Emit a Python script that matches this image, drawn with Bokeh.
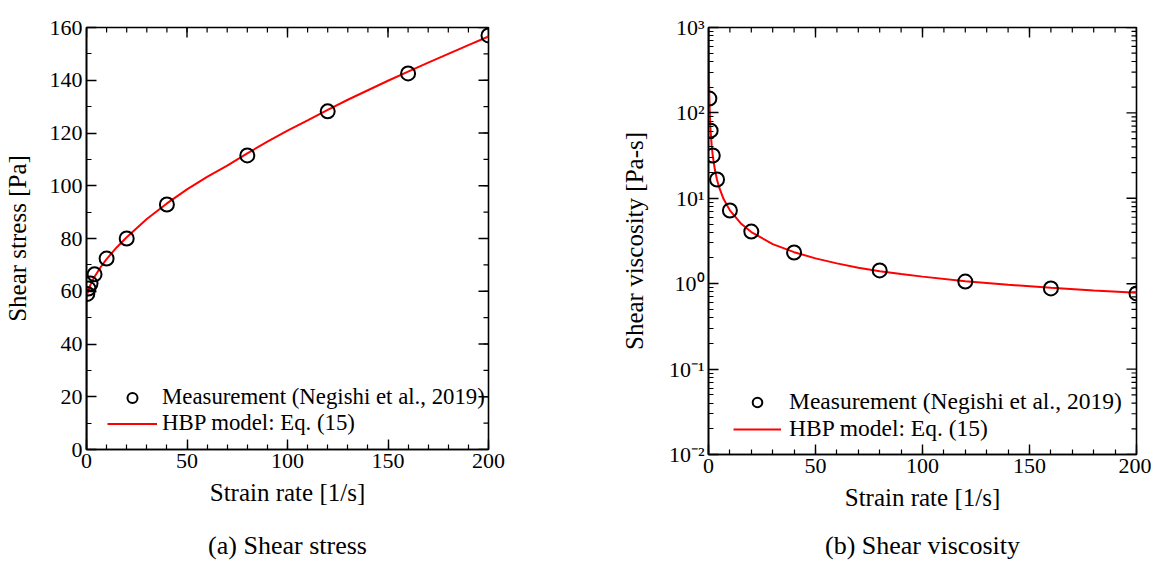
import math
from bokeh.plotting import figure
from bokeh.models import FixedTicker, Legend, LegendItem, Range1d, LinearAxis
from bokeh.layouts import row
from bokeh.embed import file_html
from bokeh.resources import INLINE

# ---- data ----
rate = [0.4, 1, 2, 4, 10, 20, 40, 80, 120, 160, 200]
stress = [59.0, 61.0, 62.9, 66.4, 72.4, 80.0, 92.9, 111.5, 128.2, 142.6, 157.0]
viscosity = [147, 62, 31.7, 16.6, 7.2, 4.08, 2.32, 1.43, 1.06, 0.88, 0.77]

model_rate = [0, 0.01, 0.03, 0.1, 0.5, 1, 2, 4, 7, 10, 15, 20, 30, 40, 50, 60,
              70, 80, 90, 100, 110, 120, 130, 140, 150, 160, 170, 180, 190, 200]
model_stress = [0, 40, 54, 57.6, 59.3, 60.6, 62.5, 65.5, 69.1, 72.2, 76.6, 80.5,
                87.4, 93.3, 98.6, 103.4, 107.6, 112.3, 116.7, 120.9, 124.8, 128.8,
                132.6, 136.2, 139.8, 143.3, 146.7, 150.0, 153.3, 156.6]

visc_rate = [0.057, 0.1, 0.2, 0.3, 0.5, 0.75, 1, 1.5, 2, 3, 4, 5, 7, 10, 15, 20,
             30, 40, 50, 60, 70, 80, 90, 100, 120, 140, 160, 180, 200]
visc_model = [1000, 575, 291, 196, 119, 80, 60.6, 41.1, 31.3, 21.4, 16.4, 13.4,
              9.87, 7.22, 5.11, 4.03, 2.91, 2.34, 1.98, 1.73, 1.54, 1.40, 1.30,
              1.21, 1.07, 0.973, 0.896, 0.833, 0.783]

x_major = [0, 50, 100, 150, 200]
x_minor = list(range(0, 201, 10))
stress_major = list(range(0, 161, 20))
stress_minor = list(range(0, 161, 10))
log_ticks = [0.01, 0.1, 1.0, 10.0, 100.0, 1000.0]
log_labels = ["10\u207b\u00b2", "10\u207b\u00b9", "10\u2070", "10\u00b9", "10\u00b2", "10\u00b3"]
log_minor = [m * d for d in [0.01, 0.1, 1, 10, 100] for m in range(2, 10)]

FONT = "Liberation Serif"
TICK_FS = "22px"
LABEL_FS = "25px"
CAP_FS = "26px"
LBL1 = "Measurement (Negishi et al., 2019)"
LBL2 = "HBP model: Eq. (15)"


def style_axis(ax):
    ax.axis_line_color = "black"
    ax.axis_line_width = 1.6
    ax.major_tick_line_color = "black"
    ax.minor_tick_line_color = "black"
    ax.major_tick_line_width = 1.4
    ax.minor_tick_line_width = 1.2
    ax.major_tick_in = 10
    ax.major_tick_out = 0
    ax.minor_tick_in = 5
    ax.minor_tick_out = 0
    ax.major_label_text_font = FONT
    ax.major_label_text_font_size = TICK_FS
    ax.major_label_text_color = "black"
    ax.major_label_standoff = 4
    ax.axis_label_text_font = FONT
    ax.axis_label_text_font_size = LABEL_FS
    ax.axis_label_text_font_style = "normal"
    ax.axis_label_text_color = "black"


def base_fig(fw, fh, ml, mr, mb, yr, ylog=False):
    p = figure(frame_width=fw, frame_height=fh, min_border_left=ml, min_border_right=mr,
               min_border_top=27, min_border_bottom=mb, x_range=Range1d(0, 200), y_range=yr,
               y_axis_type="log" if ylog else "linear",
               output_backend="svg", toolbar_location=None)
    p.grid.visible = False
    p.outline_line_color = "black"
    p.outline_line_width = 1.6
    p.background_fill_color = "white"
    p.border_fill_color = "white"
    return p


def mirror_ticks(p, xmaj, xmin, ymaj, ymin, ytop, xright):
    # tick marks on the top and right edges, pointing into the frame
    p.ray(x=xmaj, y=[ytop] * len(xmaj), length=10, angle=-math.pi / 2,
          length_units="screen", line_color="black", line_width=1.4)
    p.ray(x=xmin, y=[ytop] * len(xmin), length=5, angle=-math.pi / 2,
          length_units="screen", line_color="black", line_width=1.2)
    p.ray(x=[xright] * len(ymaj), y=ymaj, length=10, angle=math.pi,
          length_units="screen", line_color="black", line_width=1.4)
    p.ray(x=[xright] * len(ymin), y=ymin, length=5, angle=math.pi,
          length_units="screen", line_color="black", line_width=1.2)


def style_legend(p, items, loc, gw, gh, fs, standoff):
    lg = Legend(items=items, location=loc)
    lg.background_fill_alpha = 0
    lg.border_line_alpha = 0
    lg.padding = 0
    lg.margin = 0
    lg.spacing = 0
    lg.glyph_width = gw
    lg.glyph_height = gh
    lg.label_height = gh
    lg.label_standoff = standoff
    lg.label_text_font = FONT
    lg.label_text_font_size = fs
    lg.label_text_color = "black"
    p.add_layout(lg)


def caption(p, text, standoff):
    # caption drawn as the label of a tick-less axis stacked under the x axis
    ax = LinearAxis(ticker=FixedTicker(ticks=[]), axis_label=text)
    ax.axis_line_color = None
    ax.major_tick_line_color = None
    ax.minor_tick_line_color = None
    ax.axis_label_text_font = FONT
    ax.axis_label_text_font_size = CAP_FS
    ax.axis_label_text_font_style = "normal"
    ax.axis_label_text_color = "black"
    ax.axis_label_standoff = standoff
    p.add_layout(ax, "below")


# ---- (a) shear stress ----
p1 = base_fig(402, 422, 86, 120, 119, Range1d(0, 160))
p1.xaxis.ticker = FixedTicker(ticks=x_major, minor_ticks=x_minor)
p1.yaxis.ticker = FixedTicker(ticks=stress_major, minor_ticks=stress_minor)
p1.xaxis.axis_label = "Strain rate [1/s]"
p1.yaxis.axis_label = "Shear stress [Pa]"
style_axis(p1.xaxis[0])
style_axis(p1.yaxis[0])
p1.yaxis[0].axis_label_standoff = 16
p1.xaxis[0].axis_label_standoff = 8
mirror_ticks(p1, x_major, x_minor, stress_major, stress_minor, 160, 200)

l1 = p1.line(model_rate, model_stress, line_color="red", line_width=2)
s1 = p1.scatter(rate, stress, size=14, fill_color=None, line_color="black", line_width=2)
style_legend(p1, [LegendItem(label=LBL1, renderers=[s1]), LegendItem(label=LBL2, renderers=[l1])],
             (21, 13), 50, 25, "22.8px", 5)
caption(p1, "(a) Shear stress", 22)

# ---- (b) shear viscosity ----
p2 = base_fig(428, 427, 100, 15, 114, Range1d(0.01, 1000), ylog=True)
p2.xaxis.ticker = FixedTicker(ticks=x_major, minor_ticks=x_minor)
p2.yaxis.ticker = FixedTicker(ticks=log_ticks, minor_ticks=log_minor)
p2.yaxis.major_label_overrides = {t: s for t, s in zip(log_ticks, log_labels)}
p2.xaxis.axis_label = "Strain rate [1/s]"
p2.yaxis.axis_label = "Shear viscosity [Pa-s]"
style_axis(p2.xaxis[0])
style_axis(p2.yaxis[0])
p2.yaxis[0].axis_label_standoff = 18
p2.xaxis[0].axis_label_standoff = 8
mirror_ticks(p2, x_major, x_minor, log_ticks, log_minor, 1000, 200)

l2 = p2.line(visc_rate, visc_model, line_color="red", line_width=2)
s2 = p2.scatter(rate, viscosity, size=14, fill_color=None, line_color="black", line_width=2)
style_legend(p2, [LegendItem(label=LBL1, renderers=[s2]), LegendItem(label=LBL2, renderers=[l2])],
             (25, 12), 48, 24, "23.5px", 8)
caption(p2, "(b) Shear viscosity", 17)

layout = row(p1, p2, spacing=0)
open("out.html", "w").write(file_html(layout, INLINE))
